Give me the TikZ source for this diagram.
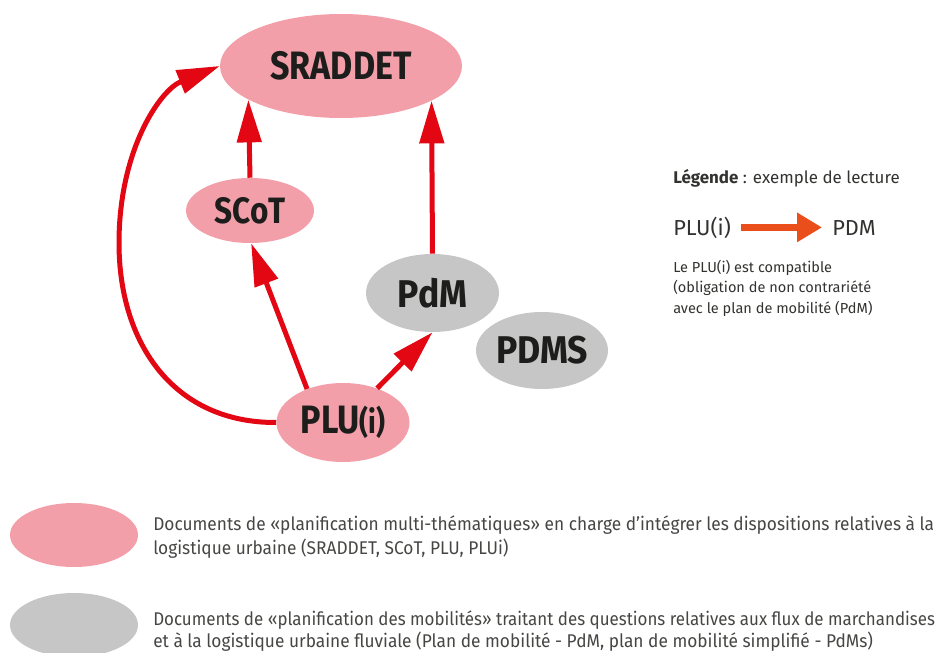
\documentclass[tikz,border=0pt]{standalone}
\usepackage{fontspec}
\setmainfont{Fira Sans}
\newfontfamily\labfont[FakeStretch=0.86]{Fira Sans}
\newfontfamily\mobfont[FakeStretch=0.92]{Fira Sans}
\newfontfamily\condfont[FakeStretch=0.94]{Fira Sans}
\newfontfamily\condfontb[FakeStretch=0.92]{Fira Sans}
\usetikzlibrary{arrows.meta,shapes.geometric}
\definecolor{pinkfill}{RGB}{242,159,170}
\definecolor{greyfill}{RGB}{198,198,198}
\definecolor{arrowred}{RGB}{227,6,19}
\definecolor{legorange}{RGB}{233,78,27}
\definecolor{labtext}{RGB}{29,29,27}
\definecolor{legtext}{RGB}{50,50,48}
\definecolor{bottext}{RGB}{70,70,68}
\begin{document}
\begin{tikzpicture}[x=0.75pt,y=-0.75pt,
  docnode/.style={ellipse, fill=pinkfill, draw=none, inner sep=0pt, text=labtext,
    font=\labfont\bfseries\fontsize{29.7}{30}\selectfont},
  mobnode/.style={ellipse, fill=greyfill, draw=none, inner sep=0pt, text=labtext,
    font=\mobfont\bfseries\fontsize{29}{30}\selectfont},
  swatch/.style={ellipse, draw=none, inner sep=0pt, minimum width=96pt, minimum height=48pt},
  link/.style={draw=arrowred, line width=3.75pt, -{Triangle[length=32pt,width=18pt]}},
  botline/.style={anchor=base west, inner sep=0pt, text=bottext,
    font=\condfont\fontsize{13.8}{16}\selectfont},
  legline/.style={anchor=base west, inner sep=0pt, text=legtext,
    font=\fontsize{10.9}{13}\selectfont},
]
\useasboundingbox (0,0) rectangle (936,653);

% main nodes
\node[docnode, minimum width=181.5pt, minimum height=78pt] (sraddet) at (341,66) {SRADDET};
\node[docnode, minimum width=96pt, minimum height=48.75pt,
  font=\labfont\bfseries\fontsize{27.5}{28}\selectfont] (scot) at (250,210.5) {SCoT};
\node[mobnode, minimum width=99.75pt, minimum height=58.5pt] (pdm) at (432.5,293) {PdM};
\node[mobnode, minimum width=99pt, minimum height=57.75pt] (pdms) at (542,350.5) {PDMS};
\node[docnode, minimum width=99.75pt, minimum height=59.25pt] (plu) at (343,422.5)
  {PLU{\fontsize{24}{25}\selectfont(i)}};

% connectors
\draw[link] (scot.north) -- (sraddet.200.5);
\draw[link] (pdm.north) -- (sraddet.339.5);
\draw[link] (plu.137) -- (scot.272);
\draw[link] (plu.45) -- (pdm.south);
\draw[link] (plu.west) .. controls (175,423) and (119,345) .. (119,243)
  .. controls (119,150) and (160,90) .. (sraddet.west);

% reading legend
\node[anchor=base west, inner sep=0pt, text=legtext, font=\fontsize{12.7}{15}\selectfont]
  (legtitle) at (673,183) {\textbf{Légende} : exemple de lecture};
\node[anchor=base west, inner xsep=7.5pt, inner ysep=0pt, text=legtext,
  font=\fontsize{16.3}{18}\selectfont] (legplu) at (663,235) {PLU(i)};
\node[anchor=base west, inner xsep=7.5pt, inner ysep=0pt, text=legtext,
  font=\fontsize{16.3}{18}\selectfont] (legpdm) at (822,235) {PDM};
\draw[draw=legorange, line width=5.25pt, -{Triangle[length=18.75pt,width=21pt]}]
  (legplu.east) -- (legplu.east -| legpdm.west);
\node[legline] (legd1) at (673,272) {Le PLU(i) est compatible};
\node[legline] (legd2) at (673,292.5) {(obligation de non contrariété};
\node[legline] (legd3) at (673,313) {avec le plan de mobilité (PdM)};

% colour legend
\node[swatch, fill=pinkfill] (swpink) at (74,535) {};
\node[swatch, fill=greyfill] (swgrey) at (74,625) {};
\node[botline] (bota1) at (153,530.5) {Documents de «planification multi-thématiques» en charge d’intégrer les dispositions relatives à la};
\node[botline] (bota2) at (153,554) {logistique urbaine (SRADDET, SCoT, PLU, PLUi)};
\node[botline, font=\condfontb\fontsize{13.8}{16}\selectfont] (botb1) at (153,625) {Documents de «planification des mobilités» traitant des questions relatives aux flux de marchandises};
\node[botline] (botb2) at (153,647) {et à la logistique urbaine fluviale (Plan de mobilité - PdM, plan de mobilité simplifié - PdMs)};
\end{tikzpicture}
\end{document}
